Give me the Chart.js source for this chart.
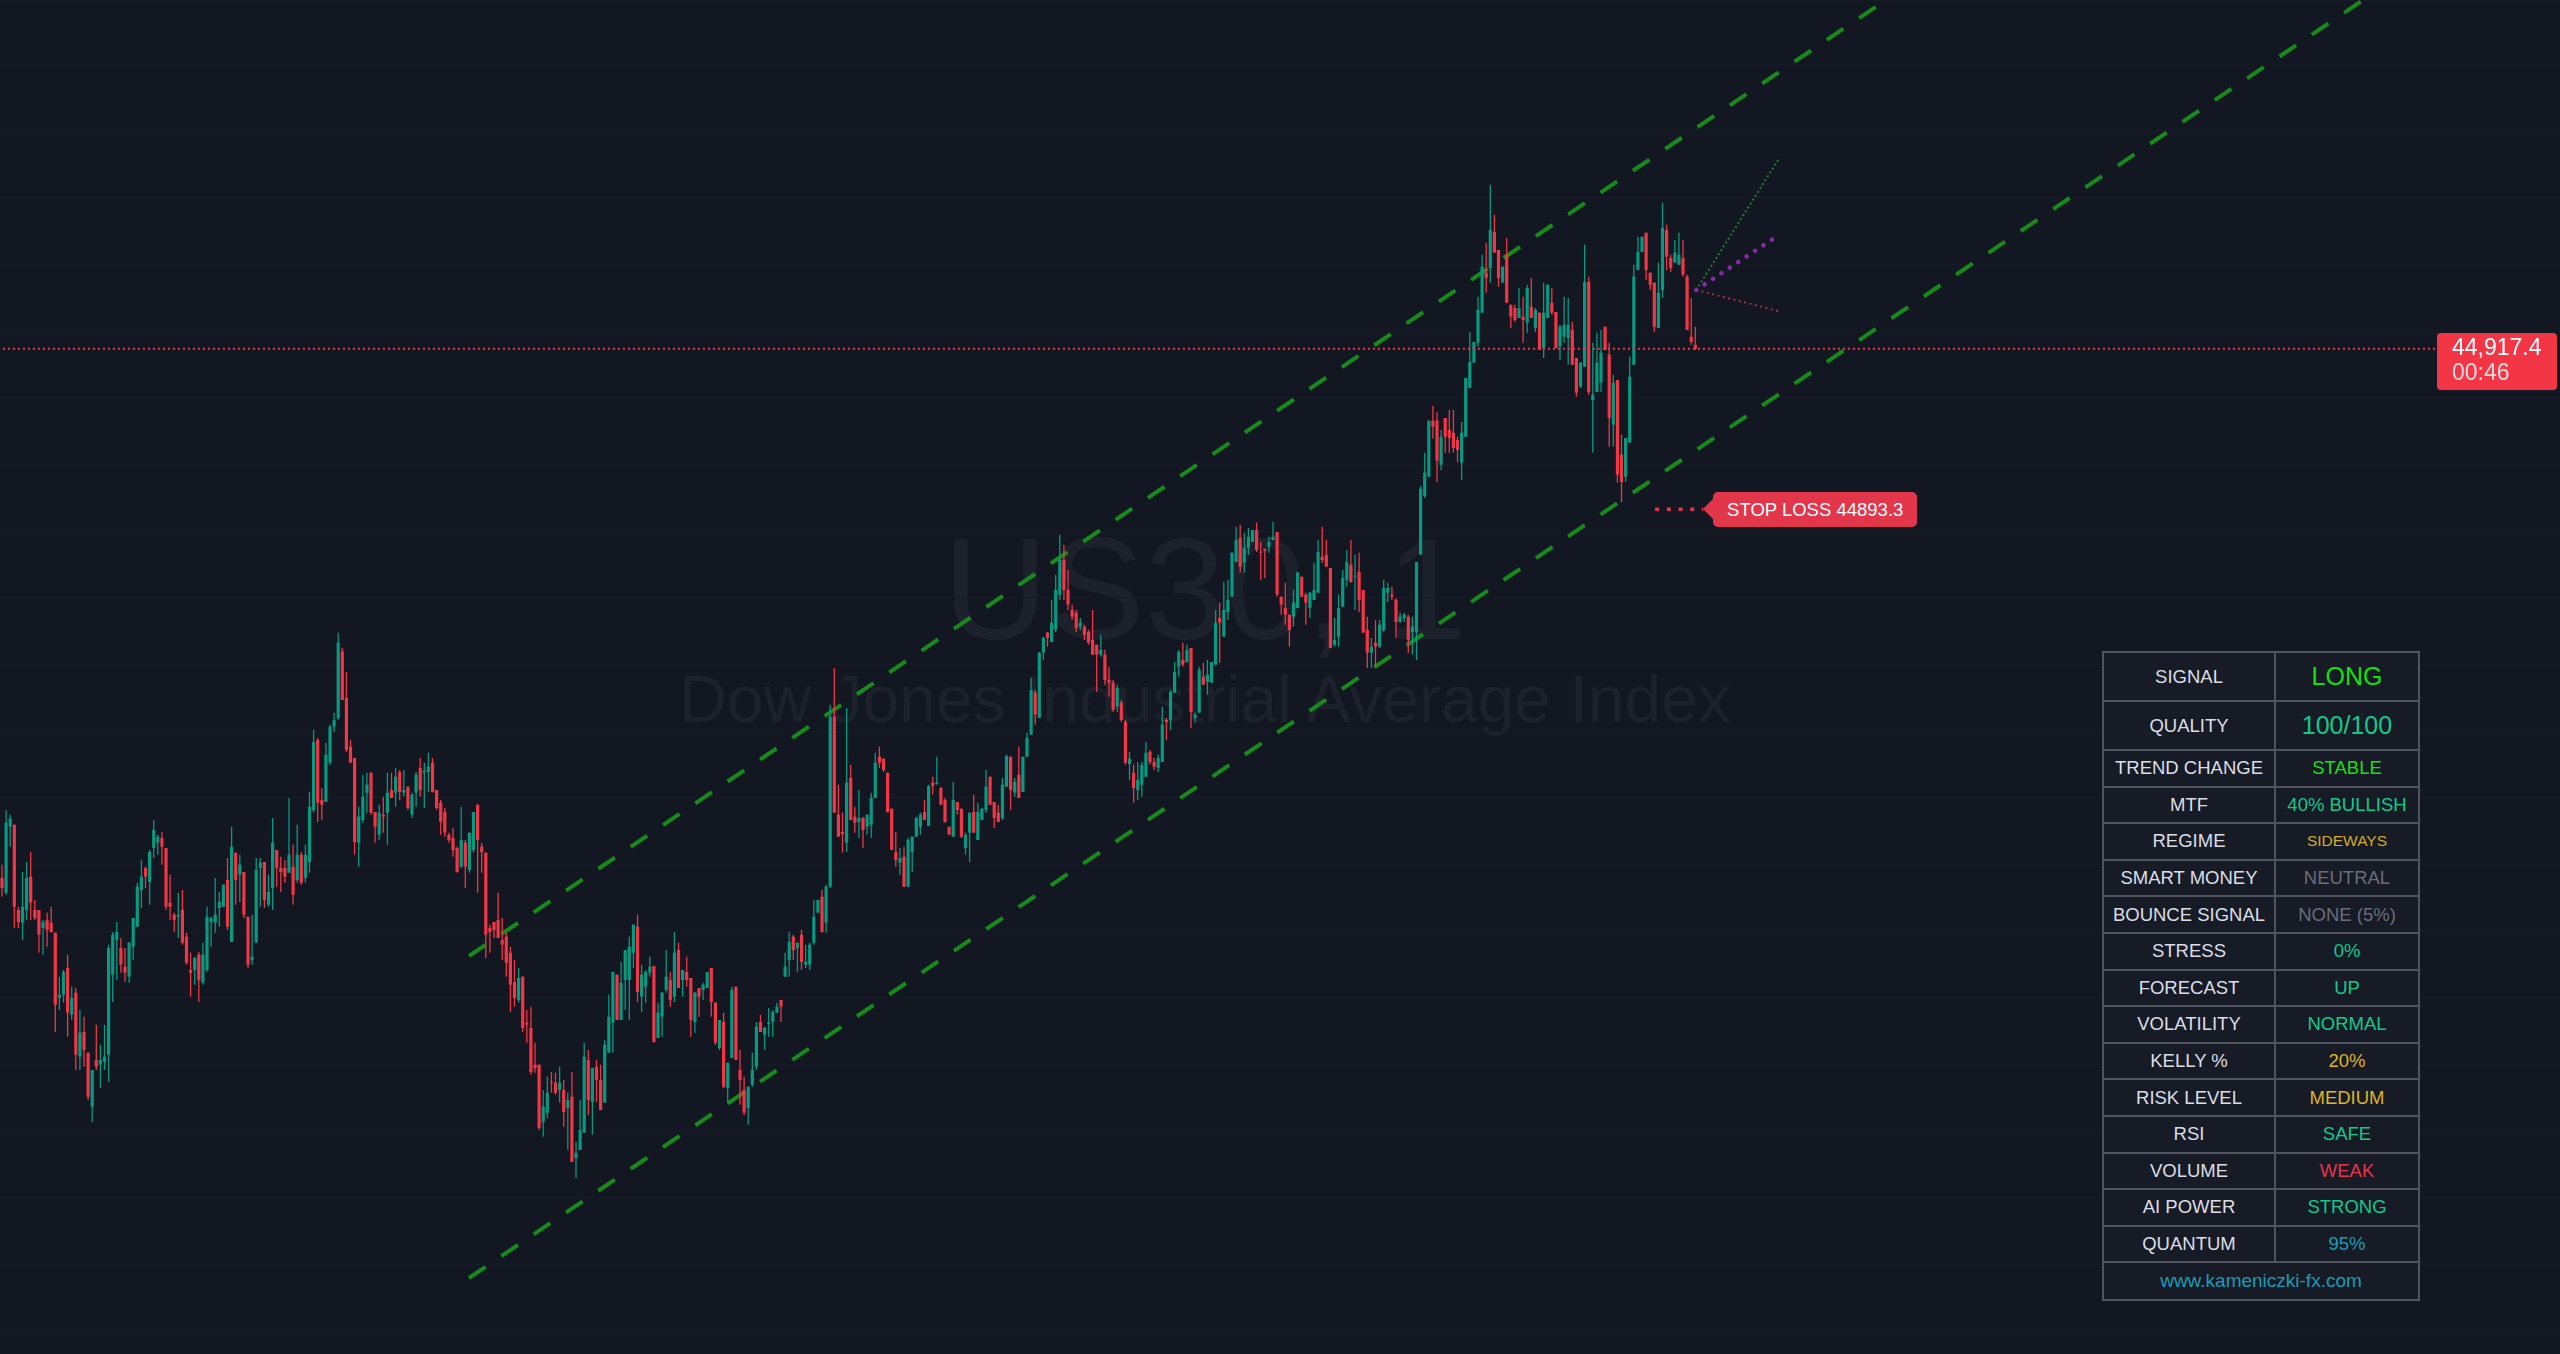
<!DOCTYPE html>
<html>
<head>
<meta charset="utf-8">
<script src="https://cdn.jsdelivr.net/npm/chart.js@4.4.1/dist/chart.umd.min.js"></script>
<style>
html,body{margin:0;padding:0;background:#131722;width:2560px;height:1354px;overflow:hidden;font-family:"Liberation Sans",Arial,sans-serif;}
#c{position:absolute;left:0;top:0;width:2560px;height:1354px;z-index:1;}
.wm{position:absolute;left:0;width:2410px;text-align:center;color:#1d212c;white-space:nowrap;z-index:0;}
#wm1{font-size:145px;line-height:145px;top:517px;}
#wm2{font-size:66px;line-height:66px;top:666px;}
#tbl{position:absolute;left:2102px;top:651px;width:316px;height:649px;border-collapse:collapse;background:#171b26;table-layout:fixed;z-index:3;}
#tbl td{border:2px solid #50545f;text-align:center;vertical-align:middle;padding:0;white-space:nowrap;color:#dcdee5;font-size:18.5px;}
#lastLbl{position:absolute;left:2437px;width:120px;height:57px;background:#f23645;border-radius:4px;color:#fff;font-size:23px;line-height:25px;padding:2px 0 0 15px;box-sizing:border-box;z-index:3;}
#lastTime{color:rgba(255,255,255,0.82);}
#slLbl{position:absolute;height:35px;line-height:35px;width:204px;background:#e2364a;border-radius:5px;color:#fff;font-size:18.5px;padding-left:14px;box-sizing:border-box;z-index:3;white-space:nowrap;}
#slLbl:before{content:"";position:absolute;left:-10px;top:7.5px;border-top:10px solid transparent;border-bottom:10px solid transparent;border-right:10px solid #e2364a;}
</style>
</head>
<body>
<div class="wm" id="wm1"></div>
<div class="wm" id="wm2"></div>
<canvas id="c" width="2560" height="1354"></canvas>
<table id="tbl"><colgroup><col style="width:172px"><col style="width:144px"></colgroup><tbody id="tbody"></tbody></table>
<div id="lastLbl"><div id="lastPrice"></div><div id="lastTime"></div></div>
<div id="slLbl"></div>
<script>
// ---------------- DATA ----------------
// Candle prices are stored as points above PRICE_BASE (US30, 1-minute candles)
const PRICE_BASE = 44780;
const open = [
58.0,55.8,65.7,66.0,53.2,51.3,53.2,58.2,53.2,53.2,50.5,51.7,51.3,49.8,40.0,40.5,44.5,37.5,40.8,31.2,
34.9,31.8,23.7,30.7,30.0,30.4,31.5,43.5,48.7,47.5,44.7,43.2,47.7,50.7,56.2,59.5,57.4,62.5,63.3,64.0,
62.5,54.3,52.5,52.2,53.2,49.2,44.2,44.2,46.5,42.3,44.2,51.4,51.3,53.5,53.7,57.7,48.4,61.8,58.5,58.9,
52.2,45.7,48.3,59.5,60.4,54.0,56.5,62.2,59.5,59.5,58.8,59.7,57.7,61.5,58.0,60.4,68.2,78.7,69.7,69.4,
75.3,80.7,82.0,92.0,85.0,77.7,76.0,63.3,66.7,70.8,73.8,67.9,64.5,67.5,67.8,71.2,70.8,73.9,70.8,71.7,
67.5,70.8,74.5,73.8,73.9,75.3,71.2,69.3,67.9,64.5,64.0,62.5,59.7,63.3,59.2,62.2,69.0,62.7,61.8,50.5,
51.4,51.7,48.7,49.2,46.8,42.4,39.7,43.2,36.3,35.5,30.0,30.0,21.4,22.8,27.4,27.3,26.2,26.2,23.5,25.2,
16.0,17.2,19.8,30.7,24.4,29.7,27.7,24.3,31.8,36.3,43.5,36.7,42.7,42.7,46.8,50.7,40.2,41.7,43.8,44.8,
34.0,37.2,41.2,42.7,40.2,47.2,42.7,43.9,43.0,36.4,41.5,41.2,41.5,44.5,39.3,32.5,36.4,26.5,31.0,41.7,
29.2,26.2,23.5,27.0,29.7,36.4,34.5,36.1,36.4,37.8,39.7,43.2,45.7,49.2,47.5,49.5,45.0,45.0,48.3,52.8,
55.2,51.3,56.7,82.2,67.5,64.9,63.3,73.0,67.2,66.4,67.0,65.7,66.0,70.0,76.2,75.9,73.8,68.4,61.9,60.3,
61.2,56.7,61.9,64.2,65.7,67.9,65.8,72.3,72.1,71.5,69.7,65.7,64.2,69.4,68.4,62.5,64.8,67.9,63.7,66.7,
68.2,73.2,69.4,67.8,67.0,71.7,76.2,70.8,73.5,70.9,76.2,79.5,85.8,82.0,91.8,94.8,93.4,95.2,100.5,105.7,
101.2,98.2,97.8,95.7,95.7,94.9,93.7,93.0,91.5,91.5,87.7,87.3,83.7,84.3,81.4,75.1,73.8,71.2,72.0,73.2,
76.9,75.4,74.5,75.4,81.7,81.7,85.8,89.7,90.7,90.4,92.5,82.0,82.8,88.2,87.4,87.3,90.0,97.0,94.2,97.9,
100.2,105.4,109.0,105.3,107.5,108.4,110.2,106.9,107.4,107.7,108.7,109.9,100.2,98.5,97.5,97.2,98.5,103.2,100.5,98.5,
99.7,100.8,106.2,106.5,104.5,93.0,94.2,98.7,102.7,105.0,103.2,103.9,101.2,95.2,91.8,93.3,92.7,95.2,100.8,100.5,
99.7,96.4,97.0,97.2,94.9,94.9,106.5,115.3,118.2,126.6,126.6,120.0,127.0,125.2,124.8,123.7,120.3,124.2,131.5,135.3,
138.3,142.8,148.8,149.5,154.9,152.2,147.3,151.5,144.0,143.5,142.0,142.2,141.3,143.7,140.5,142.8,137.5,142.0,144.3,142.9,
137.7,139.2,139.0,140.2,136.0,131.7,134.7,147.4,129.7,130.9,132.3,140.7,136.5,126.0,132.7,121.5,118.2,123.3,135.0,149.2,
151.9,154.8,148.8,147.3,140.5,146.2,155.2,151.0,150.3,150.0,151.0,148.2,139.2,138.0];
const high = [
60.0,68.2,67.5,66.0,53.7,58.9,60.4,61.9,54.7,53.2,51.7,52.8,53.7,49.8,43.2,44.2,46.5,41.7,41.5,38.2,
37.2,31.8,29.2,36.0,33.0,36.0,48.0,49.9,51.4,49.0,47.5,48.4,52.0,57.3,60.7,59.7,62.2,66.7,64.5,64.9,
62.5,58.5,52.8,55.8,56.2,49.8,46.8,46.2,46.9,48.3,53.7,52.2,58.0,55.9,57.0,61.0,65.7,61.8,61.5,58.9,
52.2,52.5,61.0,61.0,60.4,58.5,67.0,62.2,61.2,60.7,70.0,63.0,66.0,61.9,63.0,70.9,80.2,79.0,71.5,78.3,
81.0,82.8,94.8,92.5,88.9,78.7,76.0,68.7,73.5,73.8,73.8,67.9,69.0,70.2,73.8,73.8,74.5,74.2,74.2,71.7,
70.8,73.9,76.0,75.3,76.8,76.0,71.2,69.7,68.5,64.8,65.5,62.7,68.7,63.7,64.8,67.9,69.0,63.3,61.8,51.0,
51.4,55.8,52.0,49.8,47.7,45.7,44.5,43.2,38.2,38.7,33.3,30.0,26.2,28.2,28.9,28.8,29.7,27.7,25.8,28.9,
18.4,24.7,33.3,32.2,29.5,30.7,30.0,33.7,40.5,43.9,43.5,45.4,47.2,49.2,51.0,52.5,45.0,44.2,46.2,44.8,
39.3,40.9,47.2,43.9,49.9,48.3,44.2,46.2,43.0,40.9,41.5,42.3,43.9,44.5,39.4,36.7,37.8,30.3,41.7,41.7,
32.2,28.2,26.7,31.8,36.4,37.5,35.7,38.5,38.2,39.3,39.7,46.8,49.9,49.5,48.3,50.2,48.0,48.3,54.7,54.7,
56.2,57.0,84.0,89.5,72.0,67.8,83.5,75.0,68.7,71.2,67.2,67.5,70.8,76.8,77.7,75.9,73.8,68.4,64.9,62.5,
62.7,64.0,64.2,67.2,67.8,69.7,72.0,73.2,76.2,71.7,70.0,65.7,72.4,69.4,68.4,64.8,67.8,70.5,69.3,68.5,
74.2,73.2,69.4,69.0,73.0,76.5,76.2,73.0,77.7,76.2,79.8,88.0,86.2,91.9,94.2,94.9,99.7,103.5,109.5,108.0,
104.2,99.0,98.2,97.0,96.0,95.2,98.2,93.0,94.5,92.2,89.7,87.7,87.0,84.7,81.7,76.9,75.0,75.4,75.4,78.4,
77.2,76.0,76.5,83.7,82.0,86.2,90.4,92.2,93.3,93.0,92.5,82.8,89.7,90.3,90.7,90.4,98.2,99.3,102.4,102.7,
106.8,110.7,111.0,109.8,110.5,110.2,111.3,108.4,107.4,109.2,111.4,109.9,100.2,102.3,97.5,101.2,103.9,103.2,100.8,100.9,
105.3,108.7,110.7,108.7,104.5,97.0,100.5,104.2,107.2,108.7,106.5,106.8,101.2,97.2,94.0,96.7,96.7,102.7,102.3,101.7,
100.0,97.8,97.8,97.5,97.2,105.4,116.8,121.8,126.6,128.8,127.9,125.2,127.0,128.2,128.2,124.2,126.4,133.0,139.9,138.4,
145.2,151.5,153.3,162.0,157.5,152.2,149.7,154.0,144.0,144.0,146.5,145.2,147.0,148.0,143.5,142.8,147.3,147.0,146.5,142.9,
141.0,145.2,145.0,141.4,136.0,135.4,153.0,148.2,138.3,139.8,140.2,140.7,138.3,133.5,132.7,124.5,124.0,136.2,150.0,154.2,
154.2,154.8,148.8,147.3,150.3,159.3,156.0,151.5,153.7,154.8,153.7,148.5,145.0,140.7];
const low = [
55.2,55.5,62.7,50.5,50.5,48.7,51.7,51.7,51.7,46.8,46.5,47.7,49.8,34.9,38.2,39.3,34.2,36.7,29.2,29.2,
29.7,24.7,21.4,29.2,26.5,29.2,27.4,39.4,42.7,43.8,42.4,42.3,45.7,50.7,53.5,56.5,54.0,61.0,61.5,60.0,
53.2,51.7,49.9,49.0,48.0,45.0,40.2,42.0,39.4,42.0,43.9,47.7,49.8,50.7,53.7,50.2,48.4,54.0,54.4,52.0,
44.5,45.0,48.3,53.7,53.5,53.7,53.2,56.7,55.9,57.3,58.8,54.0,57.3,57.0,57.3,58.8,67.8,66.4,66.7,69.4,
75.0,79.9,81.7,84.7,76.9,75.3,61.5,59.7,66.3,67.8,67.5,63.3,63.7,64.8,63.0,70.0,68.7,69.7,70.2,68.2,
67.0,68.7,70.2,68.5,70.9,70.8,68.2,64.5,64.2,63.3,61.2,58.8,59.5,56.5,58.8,61.8,55.8,58.8,46.0,46.8,
49.0,49.0,45.7,43.2,37.9,38.7,39.3,34.9,33.3,28.5,28.8,20.2,19.2,22.0,25.8,25.5,24.3,20.7,17.2,15.4,
13.0,17.2,19.8,22.5,19.5,24.4,23.2,24.3,31.8,31.8,36.7,36.7,38.2,36.7,44.5,39.4,37.9,39.3,43.2,33.3,
34.0,34.2,40.8,38.7,39.4,41.5,40.2,41.7,34.2,34.8,37.2,39.7,41.5,37.2,33.0,32.2,26.5,24.3,31.0,30.7,
24.0,22.5,21.0,26.7,29.2,34.9,32.2,34.2,34.2,37.8,36.4,43.2,43.2,45.7,43.9,44.2,44.5,44.2,48.0,52.8,
49.8,49.8,56.5,67.8,64.2,61.8,61.9,66.7,64.8,64.0,62.5,64.5,64.0,70.0,74.5,73.9,67.8,62.2,59.7,58.5,
56.7,56.7,58.9,64.2,64.5,66.7,65.8,70.5,72.0,69.0,66.3,64.5,64.2,67.5,64.0,61.5,60.4,64.8,63.7,66.7,
67.8,69.0,65.5,66.4,66.7,71.7,68.2,70.2,70.0,70.9,76.2,79.5,81.0,82.0,90.7,92.7,93.4,94.9,99.7,99.7,
98.2,96.7,94.9,95.2,93.7,93.0,91.5,85.9,91.2,87.0,85.2,82.9,82.9,81.4,75.0,72.7,69.3,69.7,70.2,73.2,
75.0,74.2,73.9,75.4,78.7,80.2,85.8,88.2,89.7,90.3,80.5,81.3,82.8,87.0,85.5,87.3,90.0,90.3,94.2,96.7,
100.2,105.4,103.8,103.8,106.5,108.4,106.9,102.7,103.0,106.8,108.7,100.2,97.5,96.0,92.7,95.7,98.5,100.2,96.0,97.0,
99.7,100.8,105.3,104.7,92.5,92.7,92.7,98.7,101.7,102.3,98.2,97.9,94.8,89.5,89.5,89.7,92.5,94.9,99.4,99.7,
94.0,96.3,96.4,91.8,91.5,90.7,106.5,115.0,118.2,123.9,117.4,119.2,121.8,121.8,121.8,120.4,117.7,124.2,131.5,135.3,
137.7,142.8,145.8,147.3,151.8,146.7,147.3,144.3,140.5,141.4,142.0,138.3,139.8,142.0,139.9,137.2,136.0,142.0,142.5,137.5,
135.7,138.3,135.0,135.0,130.2,131.5,134.7,130.5,121.8,130.9,130.9,137.2,122.7,122.7,117.3,114.4,117.4,123.3,135.0,149.2,
151.9,147.7,146.2,139.9,140.5,145.0,149.2,148.9,150.3,150.0,148.2,140.2,138.0,137.2];
const close = [
56.5,66.3,66.9,53.7,51.4,53.7,58.0,54.3,52.0,49.5,51.4,50.2,49.9,39.0,40.5,43.9,37.8,40.0,31.5,34.8,
32.2,25.2,29.2,29.7,30.7,31.2,47.5,49.5,49.9,45.0,43.8,48.3,52.0,56.7,58.2,58.2,61.9,65.2,64.2,62.7,
53.7,53.7,51.7,52.5,48.3,45.3,43.8,46.0,42.7,46.5,52.2,52.0,52.5,54.4,57.0,50.7,62.7,57.7,60.0,52.5,
45.0,46.2,59.2,60.3,54.7,55.9,63.3,59.5,58.9,58.2,61.5,55.5,61.5,57.3,61.5,68.7,78.4,69.3,69.0,76.5,
80.7,81.7,93.3,84.7,77.2,75.3,63.4,67.2,70.2,72.0,67.8,65.7,67.8,67.2,70.8,70.0,73.2,70.9,71.2,68.5,
70.5,73.5,71.2,74.1,74.7,70.9,68.5,66.4,64.8,63.7,62.2,58.9,63.7,59.7,64.8,67.9,63.7,61.9,49.5,49.9,
50.2,49.0,48.0,45.3,42.0,40.0,43.0,35.5,36.0,28.9,29.5,20.5,23.7,25.8,27.3,25.8,27.3,22.9,24.7,15.4,
16.8,20.2,31.2,24.7,29.5,27.7,23.2,33.0,37.2,43.9,36.7,42.3,47.2,47.7,51.0,40.9,43.5,43.9,44.7,33.4,
37.8,40.8,43.2,39.7,46.8,41.5,44.2,42.7,36.7,40.8,40.2,42.0,43.9,39.4,33.3,36.7,26.7,30.3,41.2,30.7,
27.7,22.8,26.7,29.2,35.7,34.9,35.5,36.3,37.9,38.7,38.7,44.7,48.4,47.2,48.3,45.4,45.4,48.0,52.2,54.7,
49.9,56.7,82.2,67.8,64.2,64.6,72.3,66.7,66.3,67.0,65.2,67.5,70.0,75.3,75.3,74.2,67.9,62.2,60.7,61.0,
56.7,63.7,64.2,67.0,67.5,66.7,71.8,71.8,72.3,69.0,66.4,64.5,69.7,68.2,64.2,64.5,67.8,64.8,67.9,68.4,
71.7,69.0,67.0,66.4,72.0,76.3,71.2,72.4,70.0,76.2,79.0,86.2,82.5,91.8,94.0,94.0,96.3,101.2,105.7,101.2,
99.0,97.2,95.5,96.3,94.5,93.3,91.5,91.5,92.2,87.7,87.3,83.2,86.5,81.7,75.3,75.9,71.5,72.7,75.0,76.8,
75.4,74.7,76.0,81.0,81.4,85.9,88.9,91.9,90.0,92.2,82.9,82.5,89.2,87.0,88.5,90.4,96.3,96.3,98.2,99.7,
106.8,108.7,104.7,107.5,109.2,110.2,107.2,106.8,107.1,108.4,109.2,100.5,99.0,97.5,95.2,99.3,103.8,100.2,99.3,100.8,
101.2,106.9,105.7,104.7,92.5,93.7,98.5,103.0,105.4,102.4,103.3,99.7,94.8,91.8,92.7,92.7,96.0,101.5,101.5,100.2,
96.4,97.2,97.5,93.7,95.7,105.4,116.4,118.8,126.6,125.7,120.6,124.2,124.2,124.0,122.5,122.2,124.8,133.0,135.4,138.4,
143.2,149.7,148.0,155.2,151.8,148.0,149.7,144.3,142.2,141.7,143.5,141.7,146.5,142.0,143.2,137.2,142.8,147.0,142.8,137.5,
140.7,141.0,141.0,135.0,130.8,135.3,147.4,130.9,130.5,135.3,136.8,137.2,127.0,132.3,118.5,117.4,124.0,133.2,148.2,151.9,
154.2,149.2,147.0,140.7,145.8,155.5,151.2,149.5,151.8,151.5,148.5,140.2,138.4,137.4];

const CURRENT_PRICE = 44917.4;
const COUNTDOWN = '00:46';
const STOP_PRICE = 44893.3;
const priceLineX = [-1, 593.9];
const stopLineX = [403.2, 414.9];
// channel lines (candle index, price)
const upperChannel = [{x:113.9, y:44826.3}, {x:620, y:45036.3}];
const lowerChannel = [{x:113.9, y:44778.0}, {x:620, y:44988.0}];
// projection fan
const fanOrigin = {x:413.2, y:44926.2};
const fanBull = {x:433.5, y:44946.0};
const fanMid  = {x:433.5, y:44934.5};
const fanBear = {x:433.5, y:44923.0};

const symbolTitle = 'US30, 1';
const symbolName = 'Dow Jones Industrial Average Index';

const tableLabels = ['SIGNAL','QUALITY','TREND CHANGE','MTF','REGIME','SMART MONEY','BOUNCE SIGNAL','STRESS','FORECAST','VOLATILITY','KELLY %','RISK LEVEL','RSI','VOLUME','AI POWER','QUANTUM'];
const tableValues = ['LONG','100/100','STABLE','40% BULLISH','SIDEWAYS','NEUTRAL','NONE (5%)','0%','UP','NORMAL','20%','MEDIUM','SAFE','WEAK','STRONG','95%'];
const tableFooter = 'www.kameniczki-fx.com';

// ---------------- STYLE ----------------
const UP = '#089981', DOWN = '#f23645';
const valueColors = ['#12e012','#13c98a','#1ade1a','#13c98a','#d2ac2a','#6a6d78','#6a6d78','#13c98a','#13c98a','#13c98a','#dcb32b','#dcb32b','#13c98a','#e53447','#13c98a','#1c9bb5'];
const valueSizes = [25,25,18.5,18.5,15.5,18.5,18.5,18.5,18.5,18.5,18.5,18.5,18.5,18.5,18.5,18.5];
const rowHeights = [49,49,36.6,36.6,36.6,36.6,36.6,36.6,36.6,36.6,36.6,36.6,36.6,36.6,36.6,36.6];

// ---------------- BUILD ----------------
document.getElementById('wm1').textContent = symbolTitle;
document.getElementById('wm2').textContent = symbolName;

const tb = document.getElementById('tbody');
tableLabels.forEach((lab, i) => {
  const tr = document.createElement('tr');
  tr.style.height = rowHeights[i] + 'px';
  const a = document.createElement('td'); a.textContent = lab;
  const b = document.createElement('td'); b.textContent = tableValues[i];
  b.style.color = valueColors[i]; b.style.fontSize = valueSizes[i] + 'px';
  tr.appendChild(a); tr.appendChild(b); tb.appendChild(tr);
});
{
  const tr = document.createElement('tr'); tr.style.height = '38px';
  const td = document.createElement('td'); td.colSpan = 2; td.textContent = tableFooter;
  td.style.color = '#1c9bb5'; td.style.fontSize = '19px';
  tr.appendChild(td); tb.appendChild(tr);
}
document.getElementById('lastPrice').textContent = CURRENT_PRICE.toLocaleString('en-US', {minimumFractionDigits:1, maximumFractionDigits:1});
document.getElementById('lastTime').textContent = COUNTDOWN;
document.getElementById('slLbl').textContent = 'STOP LOSS ' + STOP_PRICE.toFixed(1);

const n = Math.min(open.length, high.length, low.length, close.length);
const bodies = [], wicks = [], colors = [];
for (let i = 0; i < n; i++) {
  bodies.push({x: i, y: [PRICE_BASE + open[i], PRICE_BASE + close[i]]});
  wicks.push({x: i, y: [PRICE_BASE + low[i], PRICE_BASE + high[i]]});
  colors.push(close[i] >= open[i] ? UP : DOWN);
}

const labelPlugin = {
  id: 'domLabels',
  afterRender(chart) {
    const ys = chart.scales.y, xs = chart.scales.x;
    document.getElementById('lastLbl').style.top = (ys.getPixelForValue(CURRENT_PRICE) - 15.3) + 'px';
    const sl = document.getElementById('slLbl');
    sl.style.top = (ys.getPixelForValue(STOP_PRICE) - 17.5) + 'px';
    sl.style.left = (xs.getPixelForValue(stopLineX[1]) + 10) + 'px';
  }
};

const lineBase = {type: 'line', pointRadius: 0, tension: 0, fill: false};

new Chart(document.getElementById('c'), {
  type: 'bar',
  data: {
    datasets: [
      Object.assign({}, lineBase, {data: [{x: fanOrigin.x, y: fanOrigin.y}, fanMid], borderColor: '#8a2aa8', borderWidth: 4.5, borderDash: [0.1, 10], borderCapStyle: 'round', order: 0}),
      Object.assign({}, lineBase, {data: [{x: fanOrigin.x, y: fanOrigin.y}, fanBull], borderColor: '#237a30', borderWidth: 2, borderDash: [2, 2.6], order: 0}),
      Object.assign({}, lineBase, {data: [{x: fanOrigin.x, y: fanOrigin.y}, fanBear], borderColor: '#a0324a', borderWidth: 2, borderDash: [2, 3.5], order: 0}),
      Object.assign({}, lineBase, {data: [{x: priceLineX[0], y: CURRENT_PRICE}, {x: priceLineX[1], y: CURRENT_PRICE}], borderColor: '#f23645', borderWidth: 2, borderDash: [2, 3], order: 0}),
      Object.assign({}, lineBase, {data: [{x: stopLineX[0], y: STOP_PRICE}, {x: stopLineX[1], y: STOP_PRICE}], borderColor: '#e2364a', borderWidth: 3.5, borderDash: [4, 7.7], order: 0}),
      {type: 'bar', data: bodies, backgroundColor: colors, borderWidth: 0, grouped: false, maxBarThickness: 3.2, barPercentage: 1, categoryPercentage: 1, minBarLength: 1, inflateAmount: 0, order: 1},
      {type: 'bar', data: wicks, backgroundColor: colors, borderWidth: 0, grouped: false, maxBarThickness: 1.3, barPercentage: 1, categoryPercentage: 1, inflateAmount: 0, order: 2},
      Object.assign({}, lineBase, {data: upperChannel, borderColor: '#178a1c', borderWidth: 4, borderDash: [20, 19], order: 3}),
      Object.assign({}, lineBase, {data: lowerChannel, borderColor: '#178a1c', borderWidth: 4, borderDash: [20, 19], order: 3})
    ]
  },
  options: {
    responsive: false,
    maintainAspectRatio: false,
    devicePixelRatio: 1,
    animation: false,
    events: [],
    layout: {padding: 0},
    plugins: {legend: {display: false}, tooltip: {enabled: false}, title: {display: false}},
    scales: {
      x: {type: 'linear', min: -0.49, max: 623.9, offset: false, display: false, bounds: 'ticks'},
      y: {
        type: 'linear', position: 'left', min: 44766.6, max: 44969.7,
        grid: {color: '#161a25', lineWidth: 1, drawTicks: false},
        border: {display: false},
        ticks: {display: false, stepSize: 10},
        afterFit: (s) => { s.width = 0; }
      }
    }
  },
  plugins: [labelPlugin]
});
</script>
</body>
</html>
